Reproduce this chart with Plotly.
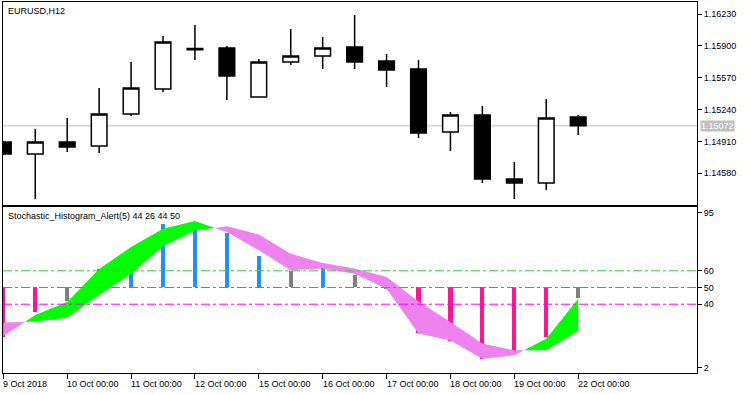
import plotly.graph_objects as go

# ---------------- data ----------------
bar_times = ["09 Oct 00:00", "09 Oct 12:00", "10 Oct 00:00", "10 Oct 12:00", "11 Oct 00:00",
             "11 Oct 12:00", "12 Oct 00:00", "12 Oct 12:00", "15 Oct 00:00", "15 Oct 12:00",
             "16 Oct 00:00", "16 Oct 12:00", "17 Oct 00:00", "17 Oct 12:00", "18 Oct 00:00",
             "18 Oct 12:00", "19 Oct 00:00", "19 Oct 12:00", "22 Oct 00:00"]

open_ = [1.14904, 1.14780, 1.14904, 1.14863, 1.15194, 1.15453, 1.15872, 1.15878, 1.15370, 1.15733,
         1.15795, 1.15888, 1.15743, 1.15660, 1.15008, 1.15184, 1.14521, 1.14480, 1.15163]
high = [1.14915, 1.15039, 1.15153, 1.15463, 1.15733, 1.16002, 1.16116, 1.15899, 1.15764, 1.16075,
        1.15992, 1.16220, 1.15816, 1.15754, 1.15215, 1.15277, 1.14697, 1.15350, 1.15184]
low = [1.14770, 1.14314, 1.14801, 1.14790, 1.15174, 1.15422, 1.15754, 1.15339, 1.15365, 1.15702,
       1.15660, 1.15660, 1.15474, 1.14946, 1.14811, 1.14480, 1.14314, 1.14407, 1.14977]
close = [1.14780, 1.14904, 1.14852, 1.15194, 1.15463, 1.15940, 1.15860, 1.15588, 1.15733, 1.15795,
         1.15878, 1.15733, 1.15650, 1.14997, 1.15184, 1.14521, 1.14480, 1.15153, 1.15072]

stoch_main = [21.0, 33.5, 41.3, 61.1, 74.2, 85.2, 89.8, 83.2, 72.3, 60.3,
              61.3, 58.3, 49.3, 22.5, 18.3, 7.4, 9.4, 19.3, 43.3]
stoch_signal = [29.0, 29.6, 31.9, 45.5, 58.1, 74.7, 84.2, 86.6, 81.8, 70.2,
                64.7, 61.3, 56.3, 41.6, 29.3, 16.4, 12.4, 12.4, 24.0]
hist_values = [20.5, 35.4, 42.0, 61.0, 73.5, 87.8, 89.2, 82.7, 69.0, 59.6,
               62.8, 57.4, 49.0, 23.0, 18.1, 7.3, 10.1, 20.3, 43.9]

levels = [60, 50, 40]
level_colors = ["#32CD32", "#808080", "#FF00FF"]

price_ticks = [1.14580, 1.14910, 1.15240, 1.15570, 1.15900, 1.16230]
last_price = 1.15072
ind_ticks = [2, 40, 50, 60, 95]

date_tick_pos = [0, 2, 4, 6, 8, 10, 12, 14, 16, 18]
date_tick_labels = ["9 Oct 2018", "10 Oct 00:00", "11 Oct 00:00", "12 Oct 00:00", "15 Oct 00:00",
                    "16 Oct 00:00", "17 Oct 00:00", "18 Oct 00:00", "19 Oct 00:00", "22 Oct 00:00"]

title_main = "EURUSD,H12"
title_ind = "Stochastic_Histogram_Alert(5) 44 26 44 50"

# ---------------- styling ----------------
FONT = "Liberation Sans, Arial, sans-serif"
GREEN = "#00FF00"
VIOLET = "#EE82EE"
BLUE = "#1E90FF"
PINK = "#FF1493"
GREY = "#808080"

xs = list(range(len(bar_times)))

fig = go.Figure()

# candles
fig.add_trace(go.Candlestick(
    x=xs, open=open_, high=high, low=low, close=close,
    increasing=dict(fillcolor="white", line=dict(color="black", width=1.5)),
    decreasing=dict(fillcolor="black", line=dict(color="black", width=1.5)),
    whiskerwidth=0, xaxis="x", yaxis="y", showlegend=False, hoverinfo="skip",
))

# filled band between main & signal, coloured by which is on top
gx, gy, vx, vy = [], [], [], []


def add_poly(px, py, positive):
    tx, ty = (gx, gy) if positive else (vx, vy)
    tx.extend(px + [px[0], None])
    ty.extend(py + [py[0], None])


for k in range(len(xs) - 1):
    x0, x1 = xs[k], xs[k + 1]
    m0, m1 = stoch_main[k], stoch_main[k + 1]
    s0, s1 = stoch_signal[k], stoch_signal[k + 1]
    d0, d1 = m0 - s0, m1 - s1
    if d0 * d1 >= 0:
        add_poly([x0, x1, x1, x0], [m0, m1, s1, s0], (d0 + d1) > 0)
    else:
        t = d0 / (d0 - d1)
        xc = x0 + t * (x1 - x0)
        yc = m0 + t * (m1 - m0)
        add_poly([x0, xc, x0], [m0, yc, s0], d0 > 0)
        add_poly([xc, x1, x1], [yc, m1, s1], d1 > 0)

fig.add_trace(go.Scatter(x=gx, y=gy, mode="lines", fill="toself", fillcolor=GREEN,
                         line=dict(width=0, color=GREEN), xaxis="x2", yaxis="y2",
                         showlegend=False, hoverinfo="skip"))
fig.add_trace(go.Scatter(x=vx, y=vy, mode="lines", fill="toself", fillcolor=VIOLET,
                         line=dict(width=0, color=VIOLET), xaxis="x2", yaxis="y2",
                         showlegend=False, hoverinfo="skip"))

# histogram from the 50 level
hist_colors = [BLUE if v > 60 else (PINK if v < 40 else GREY) for v in hist_values]
fig.add_trace(go.Bar(x=xs, y=[v - 50 for v in hist_values], base=50, width=0.13,
                     marker=dict(color=hist_colors, line=dict(width=0)),
                     xaxis="x2", yaxis="y2", showlegend=False, hoverinfo="skip"))

shapes = []
for lv, col in zip(levels, level_colors):
    shapes.append(dict(type="line", xref="x2 domain", x0=0, x1=1, yref="y2", y0=lv, y1=lv,
                       line=dict(color=col, width=1, dash="9px,3px,3px,3px"), layer="above"))
shapes.append(dict(type="line", xref="x domain", x0=0, x1=1, yref="y", y0=last_price, y1=last_price,
                   line=dict(color="#C0C0C0", width=1), layer="below"))

annotations = [
    dict(text=title_main, xref="paper", x=0, xanchor="left", xshift=3,
         yref="y domain", y=1, yanchor="top", yshift=-2, showarrow=False,
         font=dict(family=FONT, size=9, color="black")),
    dict(text=title_ind, xref="paper", x=0, xanchor="left", xshift=3,
         yref="y2 domain", y=1, yanchor="top", yshift=-2, showarrow=False,
         font=dict(family=FONT, size=9, color="black")),
    dict(text=f"{last_price:.5f}", xref="paper", x=1, xanchor="left", xshift=3,
         yref="y", y=last_price, yanchor="middle", showarrow=False, bgcolor="#C0C0C0",
         borderpad=0, font=dict(family=FONT, size=9, color="white")),
]
for p, lab in zip(date_tick_pos, date_tick_labels):
    annotations.append(dict(text=lab, xref="x2", x=p, xanchor="left", xshift=-2,
                            yref="paper", y=0, yanchor="top", yshift=-4, showarrow=False,
                            font=dict(family=FONT, size=9, color="black")))

x_range = [-0.01, 21.72]
axis_common = dict(showline=True, mirror=True, linecolor="black", linewidth=1,
                   showgrid=False, zeroline=False)

fig.update_layout(
    width=750, height=394,
    margin=dict(l=3, r=53, t=2, b=21),
    paper_bgcolor="white", plot_bgcolor="white",
    font=dict(family=FONT, size=9, color="black"),
    showlegend=False, bargap=0,
    xaxis=dict(domain=[0, 1], anchor="y", range=x_range, showticklabels=False, ticks="",
               rangeslider=dict(visible=False), **axis_common),
    yaxis=dict(domain=[0.4528, 1], anchor="x", side="right", range=[1.14252, 1.163543],
               tickvals=price_ticks, ticktext=[f"{v:.5f}" for v in price_ticks],
               ticks="outside", ticklen=4, tickcolor="black",
               tickfont=dict(family=FONT, size=9, color="black"), **axis_common),
    xaxis2=dict(domain=[0, 1], anchor="y2", range=x_range, showticklabels=False,
                tickvals=date_tick_pos, ticks="outside", ticklen=5, tickcolor="black",
                **axis_common),
    yaxis2=dict(domain=[0, 0.4474], anchor="x2", side="right", range=[-1.19, 98.19],
                tickvals=ind_ticks, ticktext=[str(v) for v in ind_ticks],
                ticks="outside", ticklen=4, tickcolor="black",
                tickfont=dict(family=FONT, size=9, color="black"), **axis_common),
    shapes=shapes,
    annotations=annotations,
)

fig.write_html("out.html", config={"displayModeBar": False},
               post_script="document.body.style.margin='0px';")
